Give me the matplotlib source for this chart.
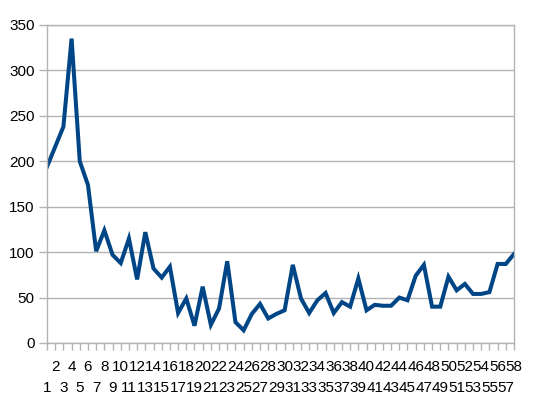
import matplotlib
matplotlib.use("Agg")
import matplotlib.pyplot as plt
from matplotlib.transforms import offset_copy

categories = list(range(1, 59))
values = [194, 216, 238, 335, 200, 174, 101, 124, 97, 88,
          115, 70, 122, 82, 72, 84, 33, 49, 19, 62,
          20, 38, 90, 23, 14, 32, 43, 27, 32, 36,
          86, 49, 33, 47, 55, 33, 45, 40, 71, 36,
          42, 41, 41, 50, 47, 74, 86, 40, 40, 73,
          58, 65, 54, 54, 56, 87, 87, 98]
yticks = [0, 50, 100, 150, 200, 250, 300, 350]

plt.rcParams['font.family'] = ['Liberation Sans', 'DejaVu Sans']
fig = plt.figure(figsize=(5.36, 4.16), dpi=100)
ax = fig.add_axes([47/536, 1-343/416, (514-47)/536, (343-25)/416])

grid_c = '#b3b3b3'
ax.plot(categories, values, color='#004586', lw=2.9, solid_joinstyle='miter')
ax.set_xlim(1, 58)
ax.set_ylim(0, 350)
ax.set_yticks(yticks)
ax.set_yticklabels([str(v) for v in yticks], fontsize=11)
ax.yaxis.grid(True, color=grid_c, lw=1)
ax.set_axisbelow(True)
for s in ax.spines.values():
    s.set_color(grid_c)
    s.set_linewidth(1)
ax.tick_params(axis='y', length=6, color=grid_c, pad=3, width=1)
ax.set_xticks(categories)
ax.set_xticklabels([])
ax.tick_params(axis='x', length=5, color=grid_c, width=1)

tr1 = offset_copy(ax.get_xaxis_transform(), fig=fig, y=-24, units='dots')
tr2 = offset_copy(ax.get_xaxis_transform(), fig=fig, y=-45.5, units='dots')
for c in categories:
    tr = tr1 if c % 2 == 0 else tr2
    ax.text(c, 0, str(c), transform=tr, ha='center', va='center',
            fontsize=11, clip_on=False)

fig.savefig('out.png', dpi=100, facecolor='white')
